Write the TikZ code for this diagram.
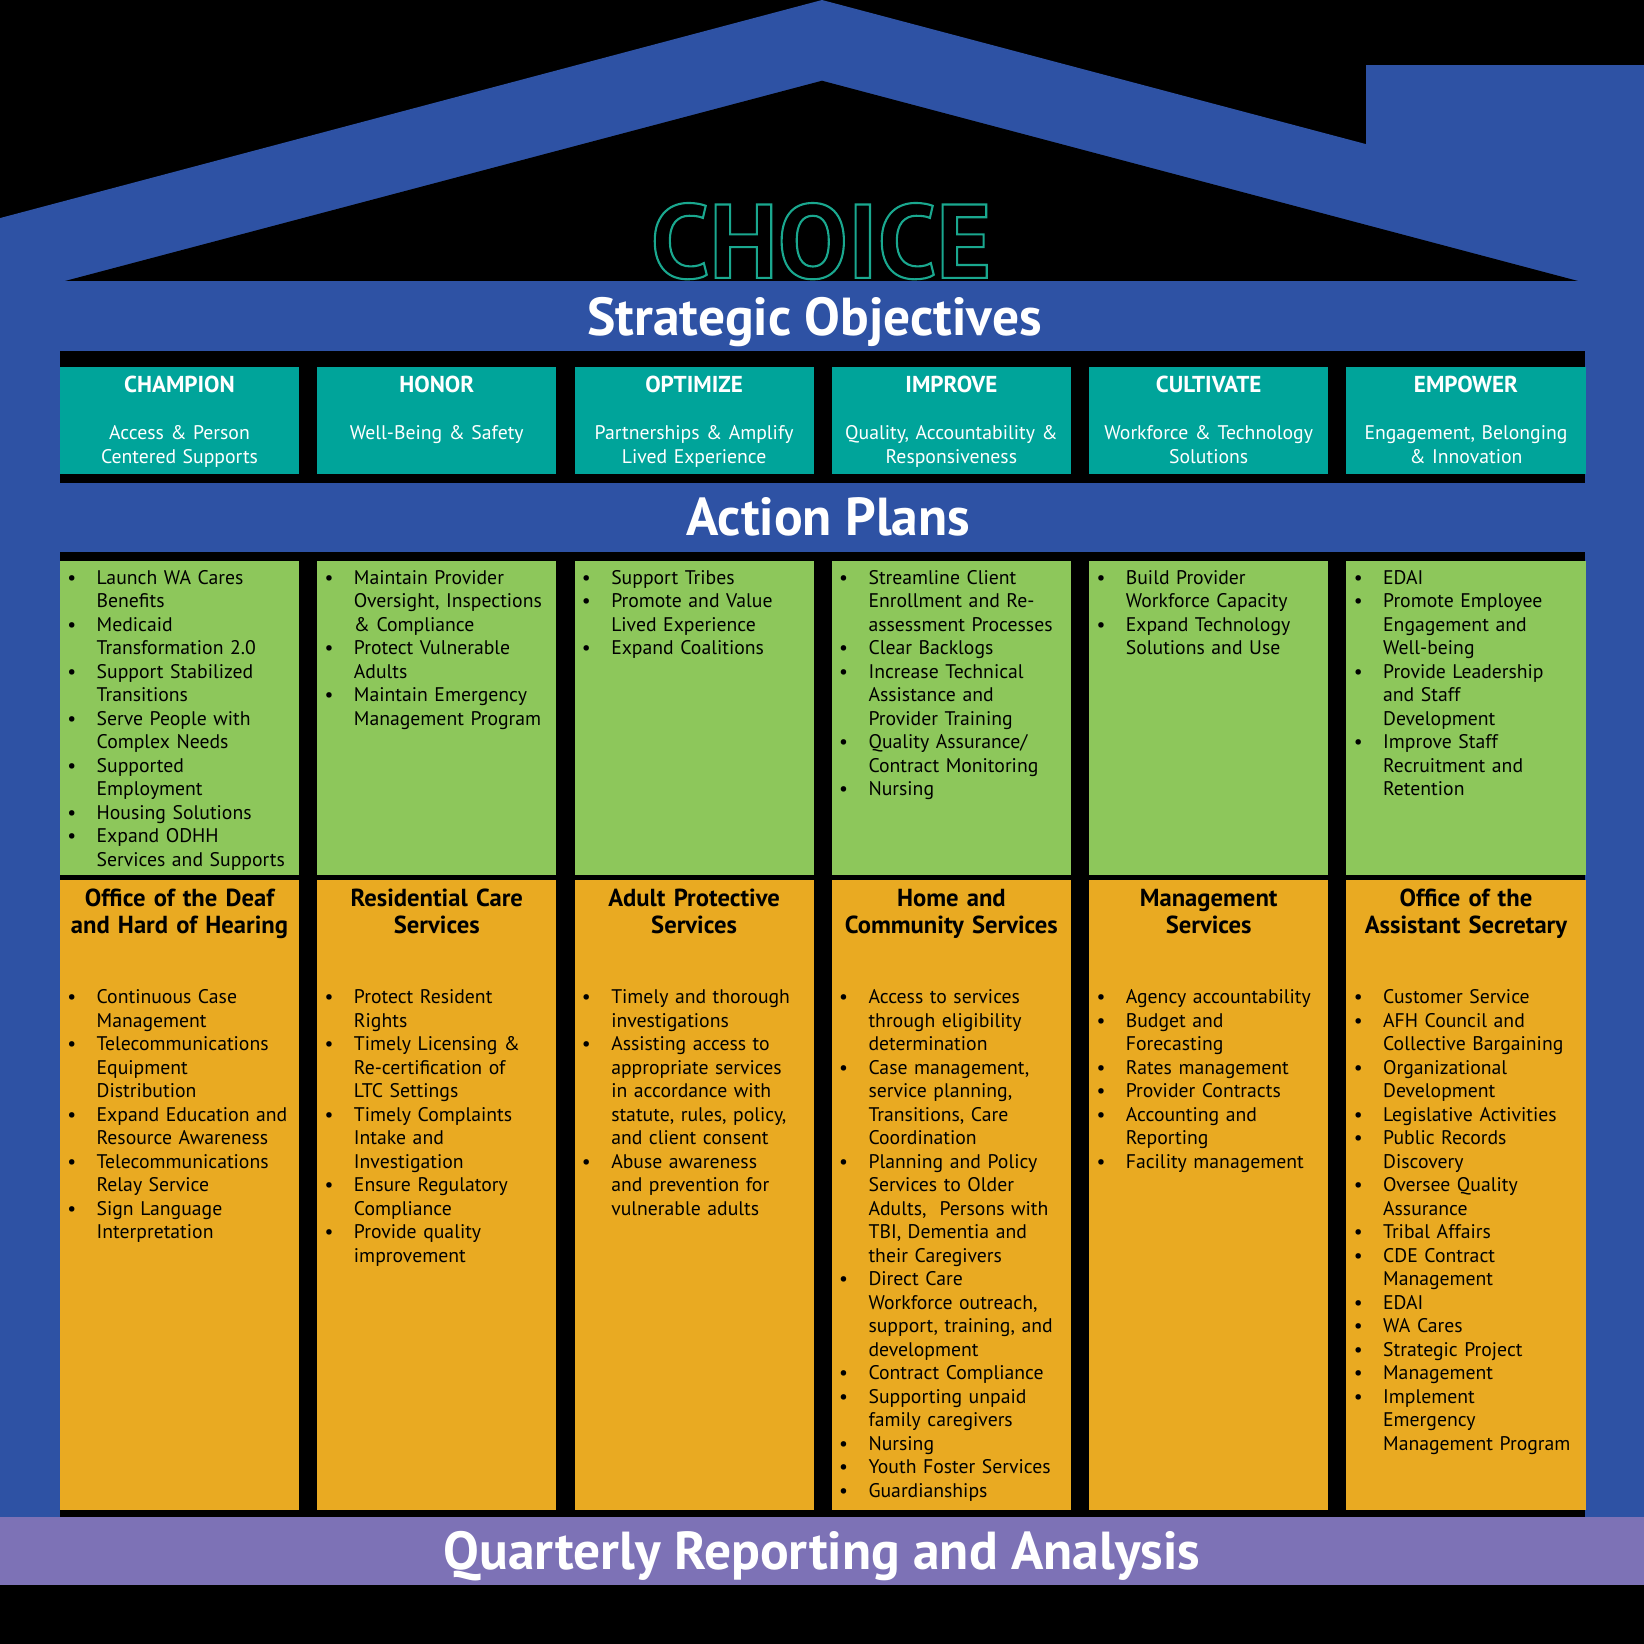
\documentclass[tikz,border=0pt]{standalone}
\usepackage{fontspec}
\setmainfont{PT Sans}
\usepackage{xcolor}
\usetikzlibrary{positioning}

\definecolor{houseblue}{HTML}{2E52A4}
\definecolor{objteal}{HTML}{00A49A}
\definecolor{plangreen}{HTML}{8DC75B}
\definecolor{unitorange}{HTML}{E9AA22}
\definecolor{reportpurple}{HTML}{7D72B6}
\definecolor{choiceteal}{HTML}{1AA88F}

% one bullet line, hanging indent (\\ keeps the indent)
\newcommand{\pitem}[1]{\par\hangindent=28pt\hangafter=1\noindent\strut\makebox[28pt][l]{\textbullet}%
    \begingroup\let\\\newline#1\endgroup\par}
% outlined letters (stroke only)
\newcommand{\outlined}[1]{\special{pdf:literal direct 1 Tr 2 w}#1\special{pdf:literal direct 0 Tr}}

\begin{document}
\begin{tikzpicture}[
    x=1pt, y=-1pt,
    colbox/.style={rectangle, inner sep=0pt, minimum width=228pt, anchor=north west},
    objbox/.style={colbox, fill=objteal, minimum height=102pt},
    planbox/.style={colbox, fill=plangreen, minimum height=299pt},
    unitbox/.style={colbox, fill=unitorange, minimum height=601pt},
    objtext/.style={anchor=north, inner sep=0pt, text width=226pt, align=center,
        text=white, font=\fontsize{18.8}{22.45}\selectfont},
    listtext/.style={anchor=north west, inner sep=0pt, text width=221pt,
        font=\fontsize{18.8}{22.4}\selectfont},
    unithead/.style={anchor=north, inner sep=0pt, text width=226pt, align=center,
        font=\bfseries\fontsize{23.5}{26}\selectfont},
    bandtitle/.style={anchor=base, inner sep=0pt, text=white,
        font=\bfseries\fontsize{51}{52}\selectfont}
]
    % background and house
    \fill[black] (0,0) rectangle (1568,1568);
    \fill[houseblue] (0,208) -- (784,0) -- (1303,137.5) -- (1303,62) -- (1568,62)
        -- (1568,1447) -- (0,1447) -- cycle;
    \fill[black] (62,268) -- (784,77) -- (1505,268) -- cycle;
    \fill[black] (57,335) rectangle (1512,461);
    \fill[black] (57,526) rectangle (1512,1447);
    \fill[reportpurple] (0,1447) rectangle (1568,1512);

    \node[anchor=base, inner sep=0pt, text=choiceteal, font=\bfseries\fontsize{100}{100}\selectfont]
        (choice) at (783,265) {\outlined{CHOICE}};
    \node[bandtitle] (objtitle) at (777,320) {Strategic Objectives};
    \node[bandtitle] (plantitle) at (790,511) {Action Plans};
    \node[bandtitle] (reporttitle) at (784,1496.5) {Quarterly Reporting and Analysis};

    % column boxes
    \foreach \i in {1,...,6} {
        \node[objbox] (obj\i) at ({57+245.4*(\i-1)},350) {};
        \node[planbox] (plan\i) at ({57+245.4*(\i-1)},535) {};
        \node[unitbox] (unit\i) at ({57+245.4*(\i-1)},839) {};
    }

    % strategic objectives
    \node[objtext] (objt1) at ([yshift=-8.5pt]obj1.north) {{\bfseries\fontsize{22}{22}\selectfont CHAMPION}\\[22.45pt] Access \& Person\\Centered Supports};
    \node[objtext] (objt2) at ([yshift=-8.5pt]obj2.north) {{\bfseries\fontsize{22}{22}\selectfont HONOR}\\[22.45pt] Well-Being \& Safety};
    \node[objtext] (objt3) at ([yshift=-8.5pt]obj3.north) {{\bfseries\fontsize{22}{22}\selectfont OPTIMIZE}\\[22.45pt] Partnerships \& Amplify\\Lived Experience};
    \node[objtext] (objt4) at ([yshift=-8.5pt]obj4.north) {{\bfseries\fontsize{22}{22}\selectfont IMPROVE}\\[22.45pt] Quality, Accountability \&\\Responsiveness};
    \node[objtext] (objt5) at ([yshift=-8.5pt]obj5.north) {{\bfseries\fontsize{22}{22}\selectfont CULTIVATE}\\[22.45pt] Workforce \& Technology\\Solutions};
    \node[objtext] (objt6) at ([yshift=-8.5pt]obj6.north) {{\bfseries\fontsize{22}{22}\selectfont EMPOWER}\\[22.45pt] Engagement, Belonging\\\& Innovation};

    % action plans
    \node[listtext] (plant1) at ([xshift=7pt, yshift=0.4pt]plan1.north west) {
        \pitem{Launch WA Cares\\Benefits}
        \pitem{Medicaid\\Transformation 2.0}
        \pitem{Support Stabilized\\Transitions}
        \pitem{Serve People with\\Complex Needs}
        \pitem{Supported\\Employment}
        \pitem{Housing Solutions}
        \pitem{Expand ODHH\\Services and Supports}};
    \node[listtext] (plant2) at ([xshift=7pt, yshift=0.4pt]plan2.north west) {
        \pitem{Maintain Provider\\Oversight, Inspections\\\& Compliance}
        \pitem{Protect Vulnerable\\Adults}
        \pitem{Maintain Emergency\\Management Program}};
    \node[listtext] (plant3) at ([xshift=7pt, yshift=0.4pt]plan3.north west) {
        \pitem{Support Tribes}
        \pitem{Promote and Value\\Lived Experience}
        \pitem{Expand Coalitions}};
    \node[listtext] (plant4) at ([xshift=7pt, yshift=0.4pt]plan4.north west) {
        \pitem{Streamline Client\\Enrollment and Re-\\assessment Processes}
        \pitem{Clear Backlogs}
        \pitem{Increase Technical\\Assistance and\\Provider Training}
        \pitem{Quality Assurance/\\Contract Monitoring}
        \pitem{Nursing}};
    \node[listtext] (plant5) at ([xshift=7pt, yshift=0.4pt]plan5.north west) {
        \pitem{Build Provider\\Workforce Capacity}
        \pitem{Expand Technology\\Solutions and Use}};
    \node[listtext] (plant6) at ([xshift=7pt, yshift=0.4pt]plan6.north west) {
        \pitem{EDAI}
        \pitem{Promote Employee\\Engagement and\\Well-being}
        \pitem{Provide Leadership\\and Staff\\Development}
        \pitem{Improve Staff\\Recruitment and\\Retention}};

    % units
    \node[unithead] (unith1) at ([yshift=-8.5pt]unit1.north) {Office of the Deaf\\and Hard of Hearing};
    \node[unithead] (unith2) at ([yshift=-8.5pt]unit2.north) {Residential Care\\Services};
    \node[unithead] (unith3) at ([yshift=-8.5pt]unit3.north) {Adult Protective\\Services};
    \node[unithead] (unith4) at ([yshift=-8.5pt]unit4.north) {Home and\\Community Services};
    \node[unithead] (unith5) at ([yshift=-8.5pt]unit5.north) {Management\\Services};
    \node[unithead] (unith6) at ([yshift=-8.5pt]unit6.north) {Office of the\\Assistant Secretary};

    \node[listtext] (unitt1) at ([xshift=7pt, yshift=-95.9pt]unit1.north west) {
        \pitem{Continuous Case\\Management}
        \pitem{Telecommunications\\Equipment\\Distribution}
        \pitem{Expand Education and\\Resource Awareness}
        \pitem{Telecommunications\\Relay Service}
        \pitem{Sign Language\\Interpretation}};
    \node[listtext] (unitt2) at ([xshift=7pt, yshift=-95.9pt]unit2.north west) {
        \pitem{Protect Resident\\Rights}
        \pitem{Timely Licensing \&\\Re-certification of\\LTC Settings}
        \pitem{Timely Complaints\\Intake and\\Investigation}
        \pitem{Ensure Regulatory\\Compliance}
        \pitem{Provide quality\\improvement}};
    \node[listtext] (unitt3) at ([xshift=7pt, yshift=-95.9pt]unit3.north west) {
        \pitem{Timely and thorough\\investigations}
        \pitem{Assisting access to\\appropriate services\\in accordance with\\statute, rules, policy,\\and client consent}
        \pitem{Abuse awareness\\and prevention for\\vulnerable adults}};
    \node[listtext] (unitt4) at ([xshift=7pt, yshift=-95.9pt]unit4.north west) {
        \pitem{Access to services\\through eligibility\\determination}
        \pitem{Case management,\\service planning,\\Transitions, Care\\Coordination}
        \pitem{Planning and Policy\\Services to Older\\Adults,\ \ Persons with\\TBI, Dementia and\\their Caregivers}
        \pitem{Direct Care\\Workforce outreach,\\support, training, and\\development}
        \pitem{Contract Compliance}
        \pitem{Supporting unpaid\\family caregivers}
        \pitem{Nursing}
        \pitem{Youth Foster Services}
        \pitem{Guardianships}};
    \node[listtext] (unitt5) at ([xshift=7pt, yshift=-95.9pt]unit5.north west) {
        \pitem{Agency accountability}
        \pitem{Budget and\\Forecasting}
        \pitem{Rates management}
        \pitem{Provider Contracts}
        \pitem{Accounting and\\Reporting}
        \pitem{Facility management}};
    \node[listtext] (unitt6) at ([xshift=7pt, yshift=-95.9pt]unit6.north west) {
        \pitem{Customer Service}
        \pitem{AFH Council and\\Collective Bargaining}
        \pitem{Organizational\\Development}
        \pitem{Legislative Activities}
        \pitem{Public Records\\Discovery}
        \pitem{Oversee Quality\\Assurance}
        \pitem{Tribal Affairs}
        \pitem{CDE Contract\\Management}
        \pitem{EDAI}
        \pitem{WA Cares}
        \pitem{Strategic Project}
        \pitem{Management}
        \pitem{Implement\\Emergency\\Management Program}};
\end{tikzpicture}
\end{document}
